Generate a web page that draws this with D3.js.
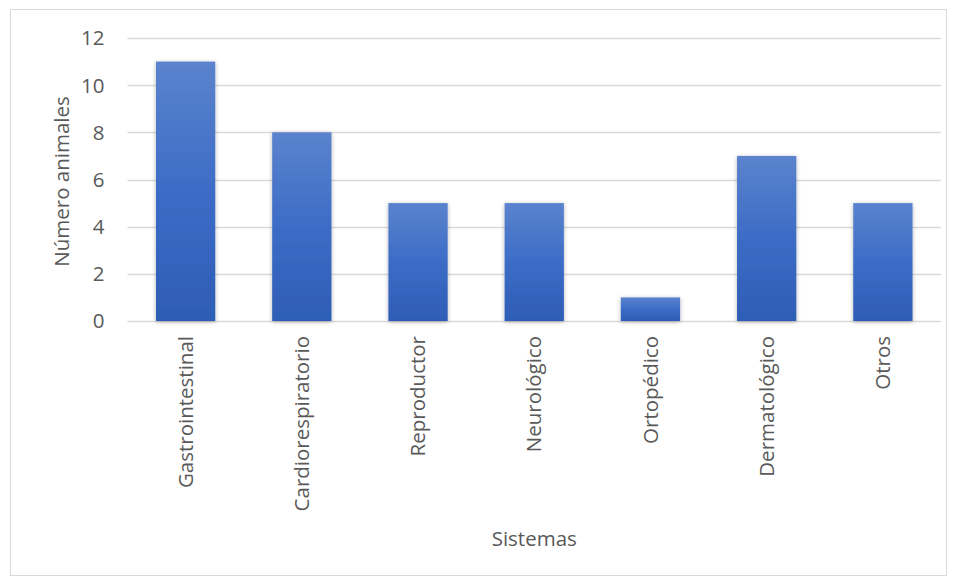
<!DOCTYPE html>
<html>
<head>
<meta charset="utf-8">
<script src="https://cdn.jsdelivr.net/npm/d3@7"></script>
<style>
  body { margin: 0; background: #fff; }
  svg text { font-family: "Open Sans", "Noto Sans", sans-serif; fill: #595959; }
</style>
</head>
<body>
<div class="canvas"></div>
<script>
var categories = ["Gastrointestinal", "Cardiorespiratorio", "Reproductor", "Neurológico", "Ortopédico", "Dermatológico", "Otros"];
var values = [11, 8, 5, 5, 1, 7, 5];
var y_ticks = [0, 2, 4, 6, 8, 10, 12];

var WIDTH = 958, HEIGHT = 578;
var FONT = "20.5px";
var plot = {left: 127.5, right: 941, top: 38, bottom: 321};

var svg = d3.select("div.canvas").append("svg")
	.attr("width", WIDTH).attr("height", HEIGHT);

// outer chart frame
svg.append("rect")
	.attr("x", 10.5).attr("y", 9.5)
	.attr("width", 936).attr("height", 566)
	.attr("fill", "white").attr("stroke", "#d9d9d9");

var defs = svg.append("defs");
var grad = defs.append("linearGradient")
	.attr("id", "bar_grad")
	.attr("x1", 0).attr("y1", 0).attr("x2", 0).attr("y2", 1);
grad.append("stop").attr("offset", "0%").attr("stop-color", "#5b83cd");
grad.append("stop").attr("offset", "50%").attr("stop-color", "#3c6cc6");
grad.append("stop").attr("offset", "100%").attr("stop-color", "#2e5db5");

var shadow = defs.append("filter").attr("id", "shadow")
	.attr("x", "-20%").attr("y", "-20%").attr("width", "140%").attr("height", "140%");
shadow.append("feDropShadow")
	.attr("dx", 0).attr("dy", 1).attr("stdDeviation", 2)
	.attr("flood-color", "#000").attr("flood-opacity", 0.3);

var x = d3.scaleBand()
	.domain(categories)
	.range([plot.left, plot.right])
	.paddingInner(0.49).paddingOuter(0.245);

var y = d3.scaleLinear()
	.domain([0, 12])
	.range([plot.bottom, plot.top]);

// gridlines
svg.append("g")
	.selectAll("line")
	.data(y_ticks)
	.enter().append("line")
	.attr("x1", plot.left).attr("x2", plot.right)
	.attr("y1", function(d) { return Math.round(y(d)) + 0.5; })
	.attr("y2", function(d) { return Math.round(y(d)) + 0.5; })
	.attr("stroke", "#d9d9d9").attr("stroke-width", 1.5);

// y axis labels
var y_axis = d3.axisLeft(y).tickValues(y_ticks).tickSize(0).tickPadding(0);
var gy = svg.append("g")
	.attr("transform", "translate(" + (plot.left - 23) + ",0)")
	.call(y_axis);
gy.select(".domain").remove();
gy.selectAll("text").style("font-size", FONT).attr("dy", "0.34em");

// bars
svg.append("g")
	.selectAll("rect")
	.data(values)
	.enter().append("rect")
	.attr("x", function(d, i) { return x(categories[i]); })
	.attr("y", function(d) { return y(d); })
	.attr("width", x.bandwidth())
	.attr("height", function(d) { return y(0) - y(d); })
	.attr("fill", "url(#bar_grad)")
	.attr("filter", "url(#shadow)");

// x axis labels
var x_axis = d3.axisBottom(x).tickSize(0).tickPadding(0);
var gx = svg.append("g")
	.attr("transform", "translate(0," + (plot.bottom + 15) + ")")
	.call(x_axis);
gx.select(".domain").remove();
gx.selectAll("text")
	.style("font-size", FONT)
	.attr("text-anchor", "end")
	.attr("transform", "rotate(-90)")
	.attr("x", 0).attr("y", 0).attr("dy", "0.35em");

// axis titles
svg.append("text")
	.attr("transform", "translate(62," + ((plot.top + plot.bottom) / 2 + 2) + ") rotate(-90)")
	.attr("text-anchor", "middle")
	.attr("dy", "0.35em")
	.style("font-size", FONT)
	.text("Número animales");

svg.append("text")
	.attr("x", (plot.left + plot.right) / 2)
	.attr("y", 539)
	.attr("text-anchor", "middle")
	.attr("dy", "0.35em")
	.style("font-size", FONT)
	.text("Sistemas");
</script>
</body>
</html>
